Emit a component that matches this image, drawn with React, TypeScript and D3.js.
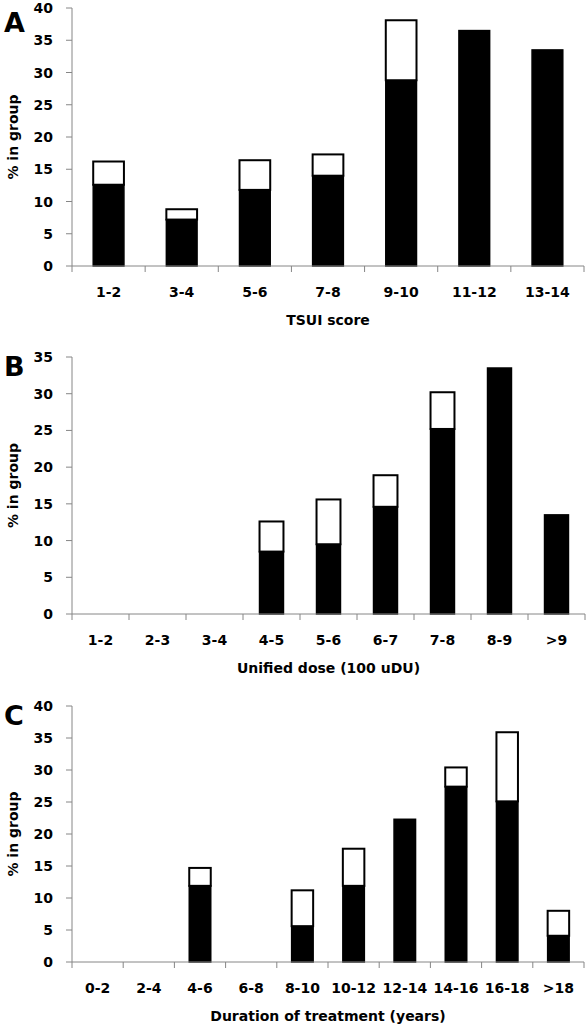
import React from "react";
import * as d3 from "d3";

const catsA = ["1-2", "3-4", "5-6", "7-8", "9-10", "11-12", "13-14"];
const blackA = [12.6, 7.2, 11.8, 14.0, 28.8, 36.5, 33.5];
const whiteA = [3.6, 1.6, 4.6, 3.3, 9.3, 0, 0];
const ticksA = [0, 5, 10, 15, 20, 25, 30, 35, 40];

const catsB = ["1-2", "2-3", "3-4", "4-5", "5-6", "6-7", "7-8", "8-9", ">9"];
const blackB = [0, 0, 0, 8.5, 9.5, 14.6, 25.2, 33.5, 13.5];
const whiteB = [0, 0, 0, 4.1, 6.1, 4.3, 5.0, 0, 0];
const ticksB = [0, 5, 10, 15, 20, 25, 30, 35];

const catsC = ["0-2", "2-4", "4-6", "6-8", "8-10", "10-12", "12-14", "14-16", "16-18", ">18"];
const blackC = [0, 0, 11.9, 0, 5.6, 11.9, 22.3, 27.4, 25.1, 4.1];
const whiteC = [0, 0, 2.8, 0, 5.6, 5.8, 0, 3.0, 10.8, 3.9];
const ticksC = [0, 5, 10, 15, 20, 25, 30, 35, 40];

const FONT = "'DejaVu Sans', sans-serif";
const AXIS = "#868686";

type PanelProps = {
  letter: string;
  cats: string[];
  black: number[];
  white: number[];
  ticks: number[];
  yMax: number;
  top: number;
  bottom: number;
  left: number;
  right: number;
  title: string;
  letterY: number;
};

function Panel(p: PanelProps) {
  const x = d3
    .scaleBand<string>()
    .domain(p.cats)
    .range([p.left, p.right])
    .paddingInner(0.58)
    .paddingOuter(0.29);
  const y = d3.scaleLinear().domain([0, p.yMax]).range([p.bottom, p.top]);
  const step = x.step();
  const boundaries = d3.range(p.cats.length + 1).map((i) => p.left + i * step);
  return (
    <g>
      <text x={4} y={p.letterY} fontFamily={FONT} fontWeight="bold" fontSize={27} fill="#000">
        {p.letter}
      </text>
      {/* y axis */}
      <line x1={p.left} x2={p.left} y1={p.top} y2={p.bottom} stroke={AXIS} strokeWidth={1} />
      {p.ticks.map((t) => (
        <g key={t}>
          <line x1={p.left - 6} x2={p.left} y1={y(t)} y2={y(t)} stroke={AXIS} strokeWidth={1} />
          <text
            x={53}
            y={y(t)}
            dy="0.36em"
            textAnchor="end"
            fontFamily={FONT}
            fontWeight="bold"
            fontSize={14}
            fill="#000"
          >
            {t}
          </text>
        </g>
      ))}
      <text
        transform={`translate(18,${(p.top + p.bottom) / 2}) rotate(-90)`}
        textAnchor="middle"
        fontFamily={FONT}
        fontWeight="bold"
        fontSize={14}
        fill="#000"
      >
        % in group
      </text>
      {/* bars */}
      {p.cats.map((c, i) => {
        const bx = x(c) as number;
        const bw = x.bandwidth();
        const b = p.black[i];
        const w = p.white[i];
        return (
          <g key={c}>
            {b > 0 && (
              <rect x={bx} y={y(b)} width={bw} height={y(0) - y(b)} fill="#000" stroke="#000" strokeWidth={1.5} />
            )}
            {w > 0 && (
              <rect
                x={bx}
                y={y(b + w)}
                width={bw}
                height={y(b) - y(b + w)}
                fill="#fff"
                stroke="#000"
                strokeWidth={2}
              />
            )}
          </g>
        );
      })}
      {/* x axis */}
      <line x1={p.left} x2={p.right} y1={p.bottom} y2={p.bottom} stroke={AXIS} strokeWidth={1} />
      {boundaries.map((bx, i) => (
        <line key={i} x1={bx} x2={bx} y1={p.bottom} y2={p.bottom + 6} stroke={AXIS} strokeWidth={1} />
      ))}
      {p.cats.map((c) => (
        <text
          key={c}
          x={(x(c) as number) + x.bandwidth() / 2}
          y={p.bottom + 31}
          textAnchor="middle"
          fontFamily={FONT}
          fontWeight="bold"
          fontSize={14}
          fill="#000"
        >
          {c}
        </text>
      ))}
      <text
        x={(p.left + p.right) / 2}
        y={p.bottom + 59}
        textAnchor="middle"
        fontFamily={FONT}
        fontWeight="bold"
        fontSize={14}
        fill="#000"
      >
        {p.title}
      </text>
    </g>
  );
}

export default function App() {
  return (
    <svg
      width={586}
      height={1027}
      style={{ position: "absolute", left: 0, top: 0, background: "#fff" }}
    >
      <rect x={0} y={0} width={586} height={1027} fill="#fff" />
      <Panel
        letter="A"
        cats={catsA}
        black={blackA}
        white={whiteA}
        ticks={ticksA}
        yMax={40}
        top={8}
        bottom={266}
        left={72}
        right={584}
        title="TSUI score"
        letterY={32}
      />
      <Panel
        letter="B"
        cats={catsB}
        black={blackB}
        white={whiteB}
        ticks={ticksB}
        yMax={35}
        top={357}
        bottom={614}
        left={72}
        right={585}
        title="Unified dose (100 uDU)"
        letterY={376}
      />
      <Panel
        letter="C"
        cats={catsC}
        black={blackC}
        white={whiteC}
        ticks={ticksC}
        yMax={40}
        top={706}
        bottom={962}
        left={72}
        right={584}
        title="Duration of treatment (years)"
        letterY={725}
      />
    </svg>
  );
}
